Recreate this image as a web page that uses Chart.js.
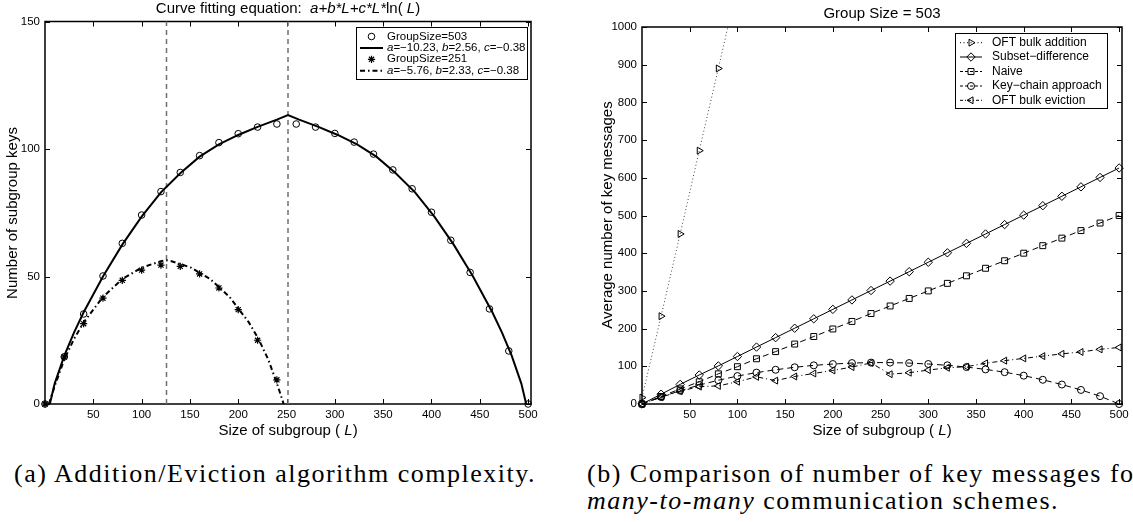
<!DOCTYPE html>
<html>
<head>
<meta charset="utf-8">
<script src="https://cdn.jsdelivr.net/npm/chart.js@4.4.1/dist/chart.umd.min.js"></script>
<style>
  body { margin: 0; width: 1133px; height: 522px; background: #fff; overflow: hidden; position: relative; }
  canvas { position: absolute; top: 0; }
  #leftChart { left: 0; }
  #rightChart { left: 570px; }
  .cap { position: absolute; font-family: "Liberation Serif", serif; font-size: 26px; letter-spacing: 1.5px;
         white-space: nowrap; color: #000; line-height: 27px; }
</style>
</head>
<body>
<canvas id="leftChart" width="570" height="445"></canvas>
<canvas id="rightChart" width="563" height="445"></canvas>
<div class="cap" style="left:14px; top:460px;">(a) Addition/Eviction algorithm complexity.</div>
<div class="cap" style="left:587px; top:460px;">(b) Comparison of number of key messages fo<br><i>many-to-many</i> communication schemes.</div>
<script>
// subgroup sizes L used in the simulations
const sizeL = [0, 20, 40, 60, 80, 100, 120, 140, 160, 180, 200, 220, 240, 260, 280, 300, 320, 340, 360, 380, 400, 420, 440, 460, 480, 500];
// group size 503, number of subgroup keys (also the key-chain curve on the right)
const keys503 = [0, 18.5, 35.3, 50.2, 63, 74.1, 83.3, 90.8, 97.4, 102.5, 106, 108.6, 109.8, 109.8, 108.6, 106.1, 102.7, 98, 91.8, 84.4, 75.2, 64.2, 51.6, 37.3, 20.8, 0];
// group size 251
const sizeL251 = [0, 20, 40, 60, 80, 100, 120, 140, 160, 180, 200, 220, 240];
const keys251 = [0, 18.5, 31.5, 41.5, 48.5, 52.5, 54.5, 54, 51, 45.5, 37, 25, 9.5];
// fitted curves
const fitL503 = [5, 10, 20, 30, 40, 60, 80, 100, 120, 140, 160, 180, 200, 220, 240, 251.5, 263, 283, 303, 323, 343, 363, 383, 403, 423, 443, 463, 473, 483, 493, 498];
const fit503 = [0, 8, 19, 28, 36, 50, 62.5, 73.5, 83, 90.5, 97, 101.8, 105.5, 108.7, 111.5, 113.3, 111.5, 108.7, 105.5, 101.8, 97, 90.5, 83, 73.5, 62.5, 50, 36, 28, 19, 8, 0];
const fitL251 = [4, 10, 20, 30, 40, 60, 80, 100, 120, 125.5, 131, 151, 171, 191, 211, 221, 231, 241, 247];
const fit251 = [0, 7, 17.5, 25.5, 32, 42, 49, 53.5, 56, 56.4, 56, 53.5, 49, 42, 32, 25.5, 17.5, 7, 0];
const splitMarks = [125.75, 251.5];
const leftYTicks = [0, 50, 100, 150];
const xTicks = [50, 100, 150, 200, 250, 300, 350, 400, 450, 500];

// right panel, group size 503
const addL = [0, 20, 40, 60, 80, 100];
const oftAddition = [17, 233, 451, 672, 890, 1110];
const subsetDiff = [0, 26, 52, 77, 101, 126, 151, 176, 201, 226, 251, 276, 301, 326, 351, 376, 401, 426, 451, 476, 501, 526, 551, 576, 601, 626];
const naive = [0, 20, 40, 59, 80, 99, 120, 139, 159, 179, 199, 219, 240, 260, 280, 300, 320, 340, 360, 380, 400, 420, 440, 460, 480, 500];
const oftEviction = [0, 18, 34, 46, 48, 59, 72, 62, 73, 81, 89, 98, 109, 79, 83, 90, 96, 99, 108, 115, 121, 127, 133, 138, 145, 150];
const rightYTicks = [0, 100, 200, 300, 400, 500, 600, 700, 800, 900, 1000];

const FONT = '"Liberation Sans", Arial, sans-serif';

function pts(xs, ys) {
  return xs.map((x, i) => ({ x: x, y: ys[i] }));
}

function series(label, data, extra) {
  return Object.assign({
    label: label, data: data,
    borderColor: '#000', backgroundColor: '#000',
    pointBorderColor: '#000', pointBackgroundColor: 'rgba(0,0,0,0)',
    pointBorderWidth: 1, pointHoverRadius: 0, pointRadius: 0,
    borderWidth: 1, tension: 0, clip: false
  }, extra);
}

function drawRuns(ctx, runs, x, y, size, align) {
  const fontOf = it => (it ? 'italic ' : '') + size + 'px ' + FONT;
  let total = 0;
  runs.forEach(r => { ctx.font = fontOf(r[1]); total += ctx.measureText(r[0]).width; });
  let cx = align === 'center' ? x - total / 2 : x;
  ctx.textAlign = 'left';
  ctx.textBaseline = 'middle';
  runs.forEach(r => {
    ctx.font = fontOf(r[1]);
    ctx.fillText(r[0], cx, y);
    cx += ctx.measureText(r[0]).width;
  });
}

// box + inward ticks on all four sides, matlab style
const frame = {
  id: 'frame',
  beforeDatasetsDraw(chart) {
    const { ctx, chartArea: a, scales } = chart;
    ctx.save();
    ctx.strokeStyle = '#000';
    ctx.lineWidth = 1;
    ctx.beginPath();
    scales.x.ticks.forEach(t => {
      const px = Math.round(scales.x.getPixelForValue(t.value)) + 0.5;
      ctx.moveTo(px, a.bottom); ctx.lineTo(px, a.bottom - 5);
      ctx.moveTo(px, a.top); ctx.lineTo(px, a.top + 5);
    });
    scales.y.ticks.forEach(t => {
      const py = Math.round(scales.y.getPixelForValue(t.value)) + 0.5;
      ctx.moveTo(a.left, py); ctx.lineTo(a.left + 5, py);
      ctx.moveTo(a.right, py); ctx.lineTo(a.right - 5, py);
    });
    ctx.stroke();
    ctx.lineWidth = 1.5;
    ctx.strokeRect(a.left, a.top, a.right - a.left, a.bottom - a.top);
    ctx.restore();
  }
};

// titles, axis names and the legend box
const texts = {
  id: 'texts',
  afterDraw(chart, args, opts) {
    const ctx = chart.ctx;
    ctx.save();
    ctx.fillStyle = '#000';
    (opts.items || []).forEach(it => {
      if (it.rotate) {
        ctx.save();
        ctx.translate(it.x, it.y);
        ctx.rotate(-Math.PI / 2);
        drawRuns(ctx, it.runs, 0, 0, it.size, 'center');
        ctx.restore();
      } else {
        drawRuns(ctx, it.runs, it.x, it.y, it.size, 'center');
      }
    });
    const lg = opts.legend;
    if (lg) {
      ctx.fillStyle = '#fff';
      ctx.fillRect(lg.box[0], lg.box[1], lg.box[2] - lg.box[0], lg.box[3] - lg.box[1]);
      ctx.strokeStyle = '#000';
      ctx.lineWidth = 1;
      ctx.strokeRect(lg.box[0] + 0.5, lg.box[1] + 0.5, lg.box[2] - lg.box[0], lg.box[3] - lg.box[1]);
      lg.items.forEach((item, i) => {
        const y = lg.rows[i];
        if (item.lineWidth) {
          ctx.save();
          ctx.lineWidth = item.lineWidth;
          ctx.setLineDash(item.dash || []);
          ctx.beginPath();
          ctx.moveTo(lg.sample[0], y);
          ctx.lineTo(lg.sample[1], y);
          ctx.stroke();
          ctx.restore();
        }
        if (item.style) {
          ctx.save();
          ctx.setLineDash([]);
          ctx.strokeStyle = '#000';
          ctx.fillStyle = 'rgba(0,0,0,0)';
          ctx.lineWidth = item.pw || 1;
          Chart.helpers.drawPoint(ctx, { pointStyle: item.style, rotation: item.rot || 0, radius: item.r, borderWidth: item.pw || 1 },
            (lg.sample[0] + lg.sample[1]) / 2, y);
          ctx.restore();
        }
        ctx.fillStyle = '#000';
        drawRuns(ctx, item.runs, lg.textX, y, lg.size, 'left');
      });
    }
    ctx.restore();
  }
};

function axes(xMax, yMax, yTicks, yWidth) {
  const tickFont = { family: FONT, size: 11.5 };
  return {
    x: {
      type: 'linear', min: 0, max: xMax,
      grid: { display: false, drawTicks: false }, border: { display: false },
      afterBuildTicks: s => { s.ticks = xTicks.map(v => ({ value: v })); },
      afterFit: s => { s.height = 41; },
      ticks: { color: '#000', font: tickFont, padding: 4, maxRotation: 0, autoSkip: false, callback: v => String(v) }
    },
    y: {
      type: 'linear', min: 0, max: yMax,
      grid: { display: false, drawTicks: false }, border: { display: false },
      afterBuildTicks: s => { s.ticks = yTicks.map(v => ({ value: v })); },
      afterFit: s => { s.width = yWidth; },
      ticks: { color: '#000', font: tickFont, padding: 5, autoSkip: false, callback: v => String(v) }
    }
  };
}

const dashDot = [5, 3, 1.5, 3];

const leftData = {
  datasets: [
    series('GroupSize=503', pts(sizeL, keys503), { showLine: false, pointStyle: 'circle', pointRadius: 3.3 }),
    series('GroupSize=251', pts(sizeL251, keys251), { showLine: false, pointStyle: 'star', pointRadius: 3.6, pointBorderWidth: 1.2 }),
    series('fit 503', pts(fitL503, fit503), { borderWidth: 2 }),
    series('fit 251', pts(fitL251, fit251), { borderWidth: 2, borderDash: dashDot })
  ]
};
splitMarks.forEach(m => {
  leftData.datasets.push(series('split', [{ x: m, y: leftYTicks[0] }, { x: m, y: leftYTicks[leftYTicks.length - 1] }],
    { borderColor: '#707070', borderWidth: 1.5, borderDash: [5, 4] }));
});

new Chart(document.getElementById('leftChart'), {
  type: 'line',
  data: leftData,
  plugins: [frame, texts],
  options: {
    responsive: false, animation: false,
    layout: { padding: { left: 0, right: 39, top: 21.5, bottom: 0 } },
    scales: axes(503, 150, leftYTicks, 45),
    plugins: {
      legend: { display: false }, tooltip: { enabled: false },
      texts: {
        items: [
          { x: 288, y: 9, size: 15, runs: [['Curve fitting equation:  ', 0], ['a+b*L+c*L*', 1], ['ln( ', 0], ['L', 1], [')', 0]] },
          { x: 288, y: 431, size: 15, runs: [['Size of subgroup ( ', 0], ['L', 1], [')', 0]] },
          { x: 13, y: 213, size: 15, rotate: true, runs: [['Number of subgroup keys', 0]] }
        ],
        legend: {
          box: [356, 27, 527, 79], sample: [360, 383], textX: 387, size: 11.5,
          rows: [36.5, 48, 59.3, 70.7],
          items: [
            { style: 'circle', r: 3.3, runs: [['GroupSize=503', 0]] },
            { lineWidth: 2, runs: [['a', 1], ['=\u221210.23, ', 0], ['b', 1], ['=2.56, ', 0], ['c', 1], ['=\u22120.38', 0]] },
            { style: 'star', r: 3.6, pw: 1.2, runs: [['GroupSize=251', 0]] },
            { lineWidth: 2, dash: dashDot, runs: [['a', 1], ['=\u22125.76, ', 0], ['b', 1], ['=2.33, ', 0], ['c', 1], ['=\u22120.38', 0]] }
          ]
        }
      }
    }
  }
});

const dashed = [6, 4];
const thinDashDot = [5, 3, 1, 3];

new Chart(document.getElementById('rightChart'), {
  type: 'line',
  data: {
    datasets: [
      series('OFT bulk addition', pts(addL, oftAddition), { borderDash: [1, 2.5], borderColor: '#444', pointStyle: 'triangle', pointRotation: 90, pointRadius: 4,
        clip: { left: 10, top: 0, right: 10, bottom: 10 } }),
      series('Subset\u2212difference', pts(sizeL, subsetDiff), { pointStyle: 'rectRot', pointRadius: 4.2 }),
      series('Naive', pts(sizeL, naive), { borderDash: dashed, pointStyle: 'rect', pointRadius: 4.2 }),
      series('Key\u2212chain approach', pts(sizeL, keys503), { borderDash: dashed, pointStyle: 'circle', pointRadius: 3.5 }),
      series('OFT bulk eviction', pts(sizeL, oftEviction), { borderDash: thinDashDot, pointStyle: 'triangle', pointRotation: -90, pointRadius: 4 })
    ]
  },
  plugins: [frame, texts],
  options: {
    responsive: false, animation: false,
    layout: { padding: { left: 0, right: 11, top: 27, bottom: 0 } },
    scales: axes(503, 1000, rightYTicks, 72),
    plugins: {
      legend: { display: false }, tooltip: { enabled: false },
      texts: {
        items: [
          { x: 312, y: 14, size: 15, runs: [['Group Size = 503', 0]] },
          { x: 312, y: 431, size: 15, runs: [['Size of subgroup ( ', 0], ['L', 1], [')', 0]] },
          { x: 38, y: 215, size: 15, rotate: true, runs: [['Average number of key messages', 0]] }
        ],
        legend: {
          box: [385, 33, 537, 108], sample: [390, 412], textX: 422, size: 12,
          rows: [42.7, 57, 71.5, 86, 100.3],
          items: [
            { lineWidth: 1, dash: [1, 2.5], style: 'triangle', rot: 90, r: 4, runs: [['OFT bulk addition', 0]] },
            { lineWidth: 1, style: 'rectRot', r: 4.2, runs: [['Subset\u2212difference', 0]] },
            { lineWidth: 1, dash: [3, 2], style: 'rect', r: 4.2, runs: [['Naive', 0]] },
            { lineWidth: 1, dash: [3, 2], style: 'circle', r: 3.5, runs: [['Key\u2212chain approach', 0]] },
            { lineWidth: 1, dash: [3, 2, 1, 2], style: 'triangle', rot: -90, r: 4, runs: [['OFT bulk eviction', 0]] }
          ]
        }
      }
    }
  }
});
</script>
</body>
</html>
